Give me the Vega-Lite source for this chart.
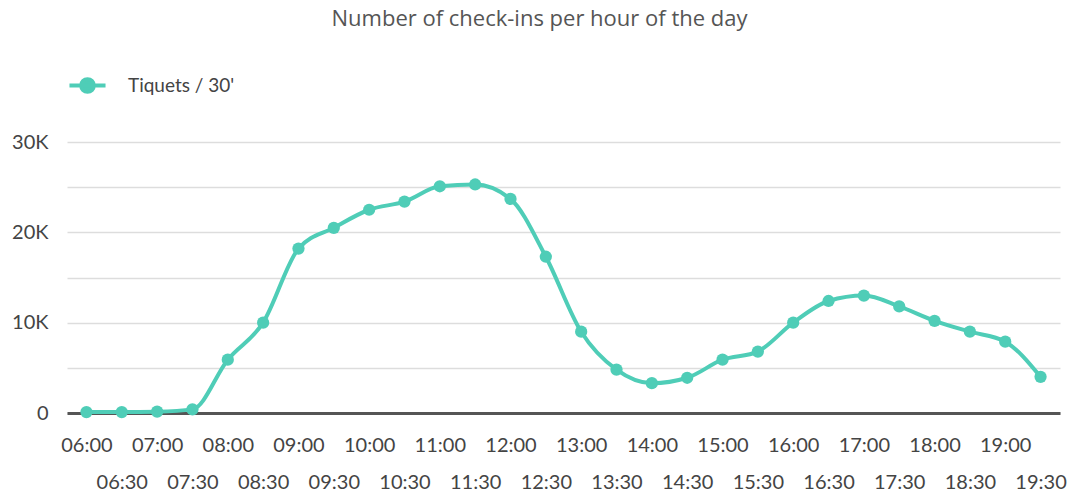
{
  "$schema": "https://vega.github.io/schema/vega-lite/v6.json",
  "width": 993,
  "height": 271,
  "autosize": "none",
  "padding": {"left": 67, "top": 142, "right": 11, "bottom": 82},
  "background": "white",
  "config": {"view": {"stroke": null}},
  "title": {
    "text": "Number of check-ins per hour of the day",
    "font": "Open Sans",
    "fontSize": 22,
    "fontWeight": "normal",
    "color": "#555555",
    "anchor": "middle",
    "dx": -24,
    "offset": 34
  },
  "data": {
    "values": [
      {"time": "06:00", "value": 100},
      {"time": "06:30", "value": 100},
      {"time": "07:00", "value": 150},
      {"time": "07:30", "value": 400},
      {"time": "08:00", "value": 5900},
      {"time": "08:30", "value": 10000},
      {"time": "09:00", "value": 18200},
      {"time": "09:30", "value": 20500},
      {"time": "10:00", "value": 22500},
      {"time": "10:30", "value": 23400},
      {"time": "11:00", "value": 25100},
      {"time": "11:30", "value": 25300},
      {"time": "12:00", "value": 23700},
      {"time": "12:30", "value": 17300},
      {"time": "13:00", "value": 9000},
      {"time": "13:30", "value": 4800},
      {"time": "14:00", "value": 3300},
      {"time": "14:30", "value": 3900},
      {"time": "15:00", "value": 5900},
      {"time": "15:30", "value": 6800},
      {"time": "16:00", "value": 10000},
      {"time": "16:30", "value": 12400},
      {"time": "17:00", "value": 13000},
      {"time": "17:30", "value": 11800},
      {"time": "18:00", "value": 10200},
      {"time": "18:30", "value": 9000},
      {"time": "19:00", "value": 7900},
      {"time": "19:30", "value": 4000}
    ]
  },
  "encoding": {
    "x": {
      "field": "time",
      "type": "ordinal",
      "sort": null,
      "scale": {"type": "point", "padding": 0.55},
      "axis": {
        "title": null,
        "labelAngle": 0,
        "labelOverlap": false,
        "labelFlush": false,
        "ticks": false,
        "grid": false,
        "domainColor": "#555555",
        "domainWidth": 3,
        "labelFont": "Lato",
        "labelFontSize": 20,
        "labelColor": "#444444",
        "labelPadding": 22,
        "labelLineHeight": 37,
        "labelExpr": "indexof(datum.value, ':30') >= 0 ? ['', datum.value] : datum.value"
      }
    },
    "y": {
      "field": "value",
      "type": "quantitative",
      "scale": {"domain": [0, 30000], "nice": false},
      "axis": {
        "title": null,
        "values": [0, 5000, 10000, 15000, 20000, 25000, 30000],
        "labelExpr": "datum.value == 0 ? '0' : (datum.value % 10000 ? '' : (datum.value / 1000) + 'K')",
        "domain": false,
        "ticks": false,
        "gridColor": "#dddddd",
        "gridWidth": 1.5,
        "labelFont": "Lato",
        "labelFontSize": 20,
        "labelColor": "#444444",
        "labelPadding": 19
      }
    },
    "color": {
      "datum": "Tiquets / 30'",
      "type": "nominal",
      "scale": {"range": ["#4fcdb7"]},
      "legend": {
        "title": null,
        "orient": "none",
        "legendX": 0,
        "legendY": -77,
        "symbolType": "M-1,0L1,0M0.35,0A0.35,0.35 0 1,1 -0.35,0A0.35,0.35 0 1,1 0.35,0",
        "symbolSize": 1300,
        "symbolStrokeWidth": 4,
        "symbolFillColor": "#4fcdb7",
        "labelFont": "Lato",
        "labelFontSize": 19,
        "labelColor": "#444444",
        "labelOffset": 20
      }
    }
  },
  "layer": [
    {
      "mark": {"type": "line", "interpolate": "monotone", "strokeWidth": 4}
    },
    {
      "mark": {"type": "point", "filled": true, "size": 150, "opacity": 1}
    }
  ]
}
